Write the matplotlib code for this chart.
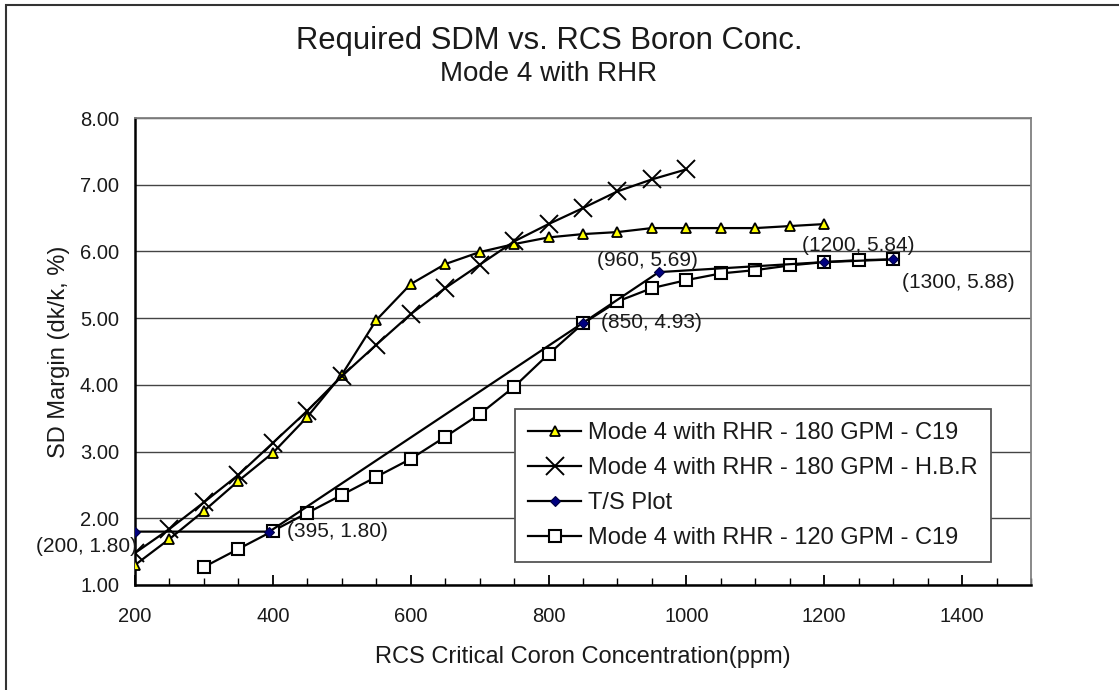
import matplotlib
matplotlib.use('Agg')
from matplotlib import pyplot as plt
from matplotlib.patches import Rectangle

# data
x_180 = [200, 250, 300, 350, 400, 450, 500, 550, 600, 650, 700, 750, 800, 850, 900, 950, 1000, 1050, 1100, 1150, 1200]
c19_180 = [1.30, 1.69, 2.11, 2.56, 2.98, 3.52, 4.15, 4.97, 5.51, 5.81, 5.99, 6.11, 6.21, 6.26, 6.29, 6.35, 6.35, 6.35, 6.35, 6.38, 6.41]

x_hbr = [200, 250, 300, 350, 400, 450, 500, 550, 600, 650, 700, 750, 800, 850, 900, 950, 1000]
hbr_180 = [1.48, 1.84, 2.24, 2.65, 3.13, 3.61, 4.13, 4.60, 5.06, 5.45, 5.80, 6.15, 6.41, 6.65, 6.90, 7.08, 7.23]

x_ts = [200, 395, 850, 960, 1200, 1300]
ts_plot = [1.80, 1.80, 4.93, 5.69, 5.84, 5.88]

x_120 = [300, 350, 400, 450, 500, 550, 600, 650, 700, 750, 800, 850, 900, 950, 1000, 1050, 1100, 1150, 1200, 1250, 1300]
c19_120 = [1.27, 1.54, 1.81, 2.08, 2.35, 2.62, 2.89, 3.22, 3.56, 3.97, 4.46, 4.92, 5.25, 5.45, 5.57, 5.67, 5.72, 5.79, 5.84, 5.87, 5.88]

labels = ['Mode 4 with RHR - 180 GPM - C19', 'Mode 4 with RHR - 180 GPM - H.B.R',
          'T/S Plot', 'Mode 4 with RHR - 120 GPM - C19']

# where each T/S label sits relative to its point (pixels) and alignment
ts_offsets = [(2, -15, 'right'), (18, 0, 'left'), (18, 0, 'left'),
              (-11, 12, 'center'), (34, 17, 'center'), (65, -23, 'center')]

plt.rcParams['font.family'] = ['Liberation Sans', 'DejaVu Sans']
txt = '#1a1a1a'

fig = plt.figure(figsize=(11.19, 6.90), dpi=100)
ax = fig.add_axes([135/1119, 1 - 585/690, (1031 - 135)/1119, (585 - 118)/690])

# outer chart border (cut at right and bottom like the reference)
fig.patches.append(Rectangle((6/1119, -0.05), 1.2, 1 - 5/690 + 0.05, transform=fig.transFigure,
                             fill=False, edgecolor='#333333', linewidth=1.5))

ax.plot(x_180, c19_180, color='black', lw=1.6, marker='^', ms=7, mfc='#ffff00', mec='black', mew=1.3,
        label=labels[0], zorder=3)
ax.plot(x_hbr, hbr_180, color='black', lw=1.6, marker='x', ms=13, mew=1.4, label=labels[1], zorder=3)
ax.plot(x_ts, ts_plot, color='black', lw=1.6, marker='D', ms=5, mfc='#000080', mec='#000040', mew=0.8,
        label=labels[2], zorder=4)
ax.plot(x_120, c19_120, color='black', lw=1.6, marker='s', ms=8, mfc='white', mec='black', mew=1.5,
        label=labels[3], zorder=3)

for (xv, yv), (dx, dy, ha) in zip(zip(x_ts, ts_plot), ts_offsets):
    ax.annotate('(%d, %.2f)' % (xv, yv), xy=(xv, yv), xytext=(dx, dy), textcoords='offset pixels',
                ha=ha, va='center', fontsize=15, color=txt, zorder=5)

ax.set_xlim(200, 1500)
ax.set_ylim(1, 8)
ax.set_xticks(range(200, 1401, 200))
ax.set_xticks(range(200, 1501, 50), minor=True)
ax.set_yticks(range(1, 9))
ax.set_yticklabels(['%.2f' % v for v in range(1, 9)])
ax.tick_params(axis='x', which='major', direction='in', length=7, width=1.3, pad=16, labelsize=14.5,
               labelcolor=txt)
ax.tick_params(axis='x', which='minor', direction='in', length=5, width=1.0)
ax.tick_params(axis='y', length=0, pad=11.5, labelsize=14.5, labelcolor=txt)
ax.grid(axis='y', color='#444444', lw=1.0)
ax.set_axisbelow(True)

for s in ['top', 'right']:
    ax.spines[s].set_color('#808080')
    ax.spines[s].set_linewidth(1.3)
for s in ['left', 'bottom']:
    ax.spines[s].set_color('black')
    ax.spines[s].set_linewidth(1.8)

ax.set_xlabel('RCS Critical Coron Concentration(ppm)', fontsize=17, color=txt, labelpad=14)
ax.set_ylabel('SD Margin (dk/k, %)', fontsize=17, color=txt, labelpad=7)

fig.text(549/1119, 1 - 41/690, 'Required SDM vs. RCS Boron Conc.', ha='center', va='center',
         fontsize=22.3, color=txt)
fig.text(549/1119, 1 - 74/690, 'Mode 4 with RHR', ha='center', va='center', fontsize=20, color=txt)

leg = ax.legend(loc='lower left', bbox_to_anchor=((515 - 135)/896, (585 - 562)/467), fontsize=17,
                frameon=True, fancybox=False, edgecolor='#555555', framealpha=1, handlelength=2.25,
                labelspacing=0.55, borderpad=0.55, borderaxespad=0, handletextpad=0.3, labelcolor=txt)
leg.get_frame().set_linewidth(1.3)

fig.savefig('out.png', dpi=100)
